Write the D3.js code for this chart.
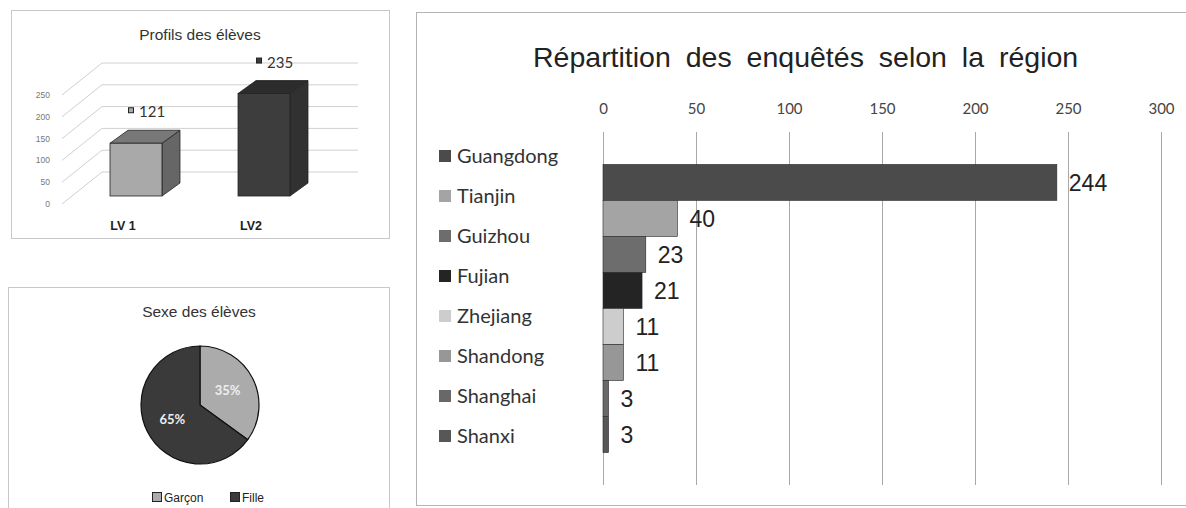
<!DOCTYPE html>
<html lang="fr">
<head>
<meta charset="utf-8">
<title>Répartition des enquêtés</title>
<script src="https://cdn.jsdelivr.net/npm/d3@7"></script>
<style>
  body { margin: 0; background: #fff; }
  svg { display: block; }
</style>
</head>
<body>
<script>
// data
var regions = ["Guangdong", "Tianjin", "Guizhou", "Fujian", "Zhejiang", "Shandong", "Shanghai", "Shanxi"];
var counts = [244, 40, 23, 21, 11, 11, 3, 3];
var regionTicks = [0, 50, 100, 150, 200, 250, 300];

var profiles = ["LV 1", "LV2"];
var profileValues = [121, 235];
var profileTicks = [0, 50, 100, 150, 200, 250];

var sexes = ["Garçon", "Fille"];
var sexShares = [35, 65];

var regionColors = ["#4b4b4b", "#a4a4a4", "#6d6d6d", "#242424", "#cdcdcd", "#979797", "#686868", "#575757"];

var svg = d3.select("body").append("svg")
    .attr("width", 1186)
    .attr("height", 508);

// ---------- boxes ----------
svg.append("rect").attr("x", 11.5).attr("y", 10.5).attr("width", 378).attr("height", 228)
    .attr("fill", "none").attr("stroke", "#c8c8c8");
svg.append("rect").attr("x", 8.5).attr("y", 287.5).attr("width", 381).attr("height", 240)
    .attr("fill", "none").attr("stroke", "#c8c8c8");
svg.append("rect").attr("x", 416.5).attr("y", 12.5).attr("width", 800).attr("height", 493)
    .attr("fill", "none").attr("stroke", "#b4b4b4");

// ---------- Profils des élèves (3D columns) ----------
var g1 = svg.append("g");
g1.append("text").attr("x", 200).attr("y", 40).attr("text-anchor", "middle")
    .attr("font-family", "Liberation Sans, Arial, sans-serif").attr("font-size", 15.5)
    .attr("fill", "#333").text("Profils des élèves");

var yP = d3.scaleLinear().domain([0, 250]).range([204, 95]);
var xP = d3.scaleBand().domain(profiles).range([46, 354]).paddingInner(0.594).paddingOuter(0.5);
var wallDx = 40, wallDy = -32;

profileTicks.forEach(function(t) {
  g1.append("path")
      .attr("d", "M62," + yP(t) + "L" + (62 + wallDx) + "," + (yP(t) + wallDy) + "L358," + (yP(t) + wallDy))
      .attr("fill", "none").attr("stroke", "#d0d0d0").attr("stroke-width", 1);
  g1.append("text").attr("x", 50).attr("y", yP(t) + 3).attr("text-anchor", "end")
      .attr("font-family", "Liberation Sans, Arial, sans-serif").attr("font-size", 8.5)
      .attr("fill", "#777").text(t);
});

var barFront = ["#a9a9a9", "#3d3d3d"];
var barTop = ["#787878", "#2c2c2c"];
var barSide = ["#666666", "#313131"];
var dx = 18, dy = -13, lift = -8;

profiles.forEach(function(p, i) {
  var x0 = xP(p), w = xP.bandwidth();
  var y0 = yP(0) + lift, y1 = yP(profileValues[i]) + lift;
  g1.append("path")
      .attr("d", "M" + (x0 + w) + "," + y1 + "L" + (x0 + w + dx) + "," + (y1 + dy) +
                 "L" + (x0 + w + dx) + "," + (y0 + dy) + "L" + (x0 + w) + "," + y0 + "Z")
      .attr("fill", barSide[i]).attr("stroke", "#222").attr("stroke-width", 0.8);
  g1.append("path")
      .attr("d", "M" + x0 + "," + y1 + "L" + (x0 + dx) + "," + (y1 + dy) +
                 "L" + (x0 + w + dx) + "," + (y1 + dy) + "L" + (x0 + w) + "," + y1 + "Z")
      .attr("fill", barTop[i]).attr("stroke", "#222").attr("stroke-width", 0.8);
  g1.append("rect").attr("x", x0).attr("y", y1).attr("width", w).attr("height", y0 - y1)
      .attr("fill", barFront[i]).attr("stroke", "#222").attr("stroke-width", 0.8);

  var mx = x0 + 21, my = y1 + dy - 20;
  g1.append("rect").attr("x", mx - 2.5).attr("y", my - 2.5).attr("width", 5).attr("height", 5)
      .attr("fill", barFront[i]).attr("stroke", "#222").attr("stroke-width", 1);
  g1.append("text").attr("x", mx + 8).attr("y", my + 7)
      .attr("font-family", "Lato, sans-serif").attr("font-size", 15)
      .attr("fill", "#333").text(profileValues[i]);

  g1.append("text").attr("x", x0 + w / 2 - 13).attr("y", 230).attr("text-anchor", "middle")
      .attr("font-family", "Liberation Sans, Arial, sans-serif").attr("font-size", 12.5)
      .attr("font-weight", "bold").attr("fill", "#222").text(p);
});

// ---------- Sexe des élèves (pie) ----------
var g2 = svg.append("g");
g2.append("text").attr("x", 199).attr("y", 317).attr("text-anchor", "middle")
    .attr("font-family", "Liberation Sans, Arial, sans-serif").attr("font-size", 15.5)
    .attr("fill", "#333").text("Sexe des élèves");

var pieColors = ["#ababab", "#3a3a3a"];
var pie = d3.pie().sort(null).value(function(d) { return d; });
var arc = d3.arc().innerRadius(0).outerRadius(59);
var labelArc = d3.arc().innerRadius(31).outerRadius(31);
var pg = g2.append("g").attr("transform", "translate(200,405)");
pg.selectAll("path").data(pie(sexShares)).enter().append("path")
    .attr("d", arc)
    .attr("fill", function(d, i) { return pieColors[i]; })
    .attr("stroke", "#111").attr("stroke-width", 1.2);
pg.selectAll("text").data(pie(sexShares)).enter().append("text")
    .attr("transform", function(d) { return "translate(" + labelArc.centroid(d) + ")"; })
    .attr("dy", "0.35em").attr("text-anchor", "middle")
    .attr("font-family", "Lato, sans-serif").attr("font-size", 13).attr("font-weight", "bold")
    .attr("fill", "#eee").text(function(d) { return d.data + "%"; });

var legX = [152, 230];
sexes.forEach(function(s, i) {
  g2.append("rect").attr("x", legX[i] + 0.5).attr("y", 492.5).attr("width", 9).attr("height", 9)
      .attr("fill", pieColors[i]).attr("stroke", "#222").attr("stroke-width", 1);
  g2.append("text").attr("x", legX[i] + 12).attr("y", 501.5)
      .attr("font-family", "Liberation Sans, Arial, sans-serif").attr("font-size", 12)
      .attr("fill", "#222").text(s);
});

// ---------- Répartition des enquêtés selon la région ----------
var g3 = svg.append("g");
g3.append("text").attr("x", 533).attr("y", 67)
    .attr("font-family", "Liberation Sans, Arial, sans-serif").attr("font-size", 28.5)
    .attr("word-spacing", 7)
    .attr("fill", "#222").text("Répartition des enquêtés selon la région");

var x = d3.scaleLinear().domain([0, 300]).range([603, 1161]);
var y = d3.scaleBand().domain(regions).range([132, 485]).paddingInner(0).paddingOuter(0.9);

var xAxis = d3.axisTop(x).tickValues(regionTicks).tickSize(0).tickPadding(0);
var ax = g3.append("g").attr("transform", "translate(0,114)").call(xAxis);
ax.select(".domain").remove();
ax.selectAll("text").attr("font-family", "Lato, sans-serif").attr("font-size", 15).attr("fill", "#444");

g3.selectAll(".grid").data(regionTicks).enter().append("line")
    .attr("class", "grid")
    .attr("x1", function(d) { return Math.round(x(d)) + 0.5; })
    .attr("x2", function(d) { return Math.round(x(d)) + 0.5; })
    .attr("y1", 132).attr("y2", 485)
    .attr("stroke", "#a8a8a8").attr("stroke-width", 1);

g3.selectAll(".bar").data(regions).enter().append("rect")
    .attr("class", "bar")
    .attr("x", x(0))
    .attr("y", function(d) { return y(d); })
    .attr("width", function(d, i) { return x(counts[i]) - x(0); })
    .attr("height", y.bandwidth())
    .attr("fill", function(d, i) { return regionColors[i]; })
    .attr("stroke", "#2a2a2a").attr("stroke-width", 0.6);

g3.selectAll(".val").data(regions).enter().append("text")
    .attr("class", "val")
    .attr("x", function(d, i) { return x(counts[i]) + 12; })
    .attr("y", function(d) { return y(d) + y.bandwidth() / 2; })
    .attr("dy", "0.36em")
    .attr("font-family", "Liberation Sans, Arial, sans-serif").attr("font-size", 23)
    .attr("fill", "#222")
    .text(function(d, i) { return counts[i]; });

var leg = g3.selectAll(".leg").data(regions).enter().append("g")
    .attr("class", "leg")
    .attr("transform", function(d, i) { return "translate(439," + (156 + i * 40) + ")"; });
leg.append("rect").attr("x", 0).attr("y", -6).attr("width", 12).attr("height", 12)
    .attr("fill", function(d, i) { return regionColors[i]; });
leg.append("text").attr("x", 18).attr("dy", "0.36em")
    .attr("font-family", "Lato, sans-serif").attr("font-size", 20)
    .attr("fill", "#333").text(function(d) { return d; });
</script>
</body>
</html>
